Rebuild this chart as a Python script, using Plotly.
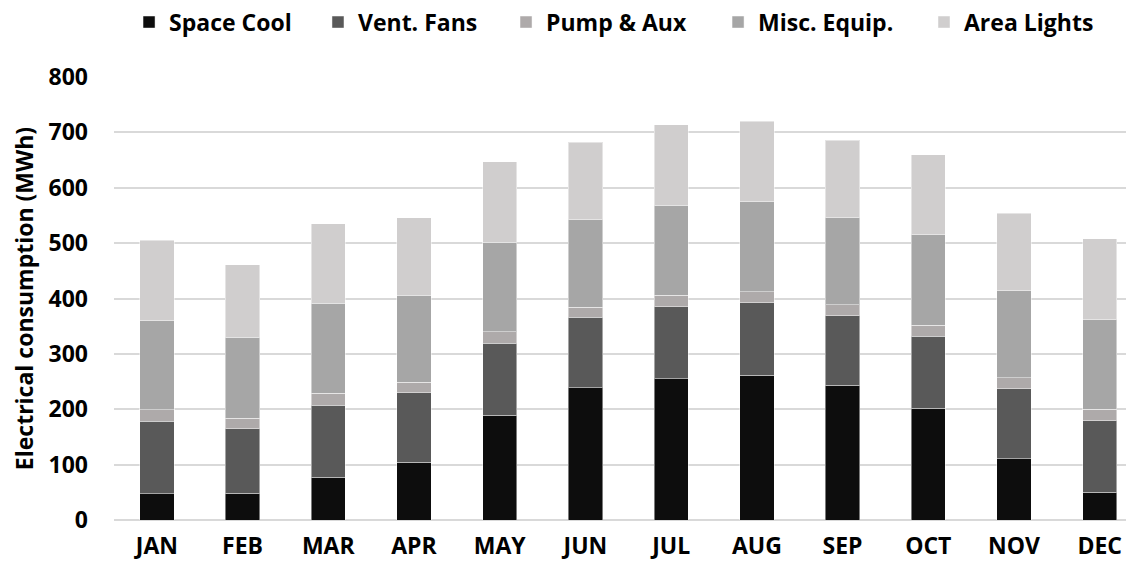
import plotly.graph_objects as go

months = ["JAN", "FEB", "MAR", "APR", "MAY", "JUN", "JUL", "AUG", "SEP", "OCT", "NOV", "DEC"]

# electrical consumption by end use (MWh)
space_cool = [47, 48, 77, 104, 189, 239, 255, 261, 243, 202, 111, 50]
vent_fans = [131, 117, 130, 126, 130, 127, 130, 131, 126, 130, 126, 129]
pump_aux = [21, 19, 22, 19, 21, 18, 21, 20, 20, 20, 20, 21]
misc_equip = [161, 146, 162, 157, 162, 158, 162, 163, 157, 163, 157, 162]
area_lights = [145, 131, 144, 140, 145, 140, 146, 145, 140, 145, 140, 146]

y_ticks = [0, 100, 200, 300, 400, 500, 600, 700, 800]

series = [
    ("Space Cool", space_cool, "#0d0d0d"),
    ("Vent. Fans", vent_fans, "#595959"),
    ("Pump & Aux", pump_aux, "#aeaaaa"),
    ("Misc. Equip.", misc_equip, "#a6a6a6"),
    ("Area Lights", area_lights, "#d0cece"),
]

font_name = "Open Sans"
fs = 23

# one small legend per series so the entries sit where the reference has them
legend_x = [0.1075, 0.2753, 0.4423, 0.6306, 0.8135]

fig = go.Figure()
legends = {}
for i, (name, vals, col) in enumerate(series):
    key = "legend" if i == 0 else f"legend{i + 1}"
    fig.add_trace(go.Bar(
        x=months, y=vals, name=name, legend=key, showlegend=True,
        marker=dict(color=col, line=dict(color="rgba(255,255,255,0.45)", width=1)),
    ))
    legends[key] = dict(
        orientation="h", xref="container", yref="container",
        x=legend_x[i], xanchor="left", y=0.975, yanchor="middle",
        font=dict(size=fs, weight="bold"), bgcolor="rgba(0,0,0,0)",
    )

# page body has an 8px margin, so the figure is sized/offset to compensate
fig.update_layout(
    showlegend=True,
    barmode="stack",
    bargap=0.6,
    width=1126, height=564,
    margin=dict(l=106, r=0, t=69, b=52, autoexpand=False),
    plot_bgcolor="white",
    paper_bgcolor="white",
    font=dict(family=font_name, size=fs, color="black", weight="bold"),
    xaxis=dict(
        range=[-0.5, 11.4], automargin=False,
        showgrid=False, showline=False, ticks="",
        ticklabelstandoff=10,
        tickfont=dict(size=fs, weight="bold"),
    ),
    yaxis=dict(
        range=[0, 800], tickvals=y_ticks, automargin=False,
        showgrid=True, gridcolor="#d9d9d9", gridwidth=1.5,
        zeroline=True, zerolinecolor="#d9d9d9", zerolinewidth=1.5,
        showline=False, ticks="",
        ticklabelstandoff=25,
        tickfont=dict(size=fs, weight="bold"),
        title=dict(text="Electrical consumption (MWh)", standoff=12,
                   font=dict(size=fs, weight="bold")),
    ),
    **legends,
)

fig.write_html("out.html")
